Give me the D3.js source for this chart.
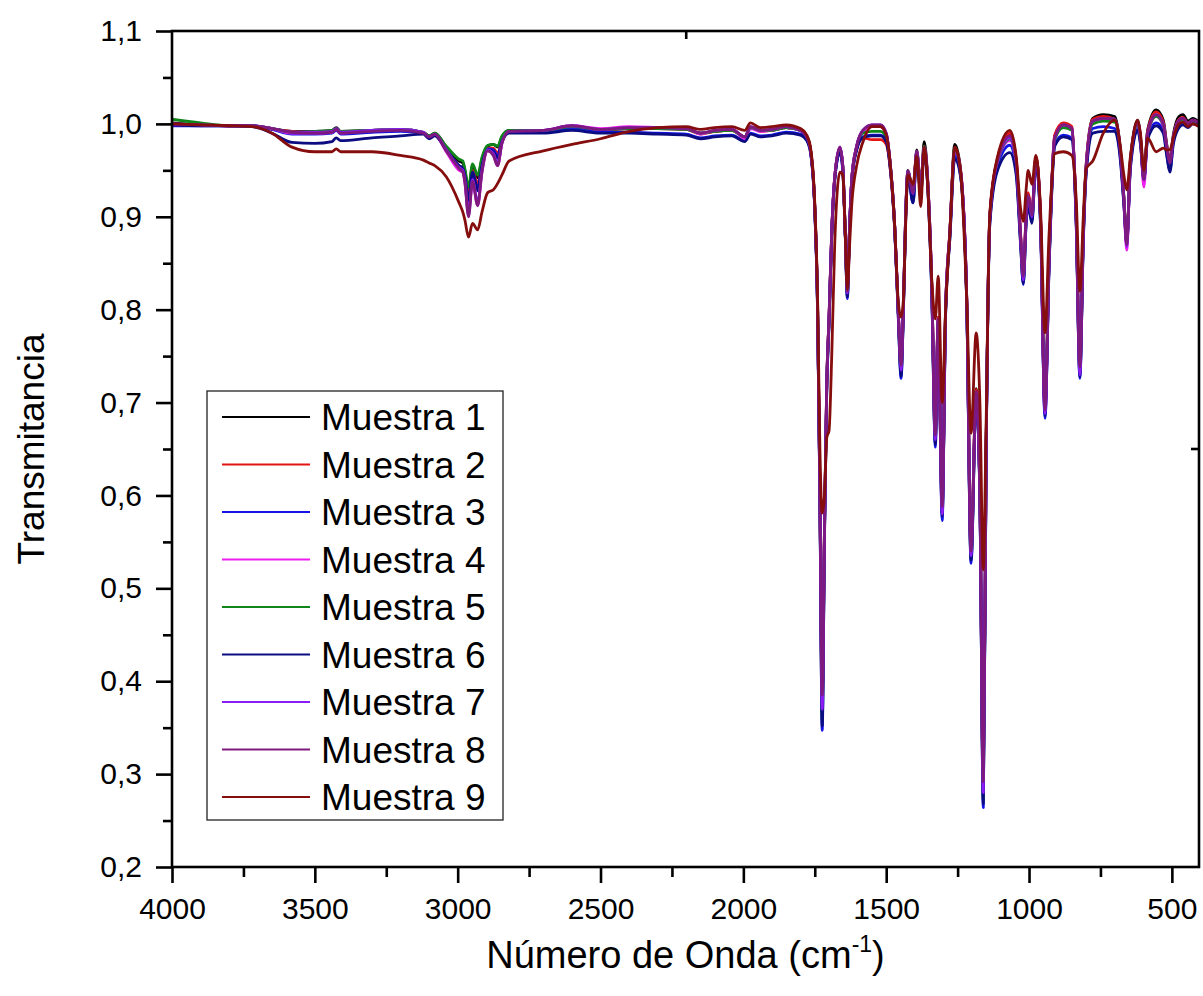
<!DOCTYPE html>
<html>
<head>
<meta charset="utf-8">
<script src="https://cdn.jsdelivr.net/npm/d3@7"></script>
<style>
  body { margin: 0; background: #fff; }
  svg { display: block; font-family: Arial, "Liberation Sans", sans-serif; }
</style>
</head>
<body>
<div id="chart"></div>
<script>
// wavenumber grid (cm-1), shared by all samples
const wavenumbers = [
  4000, 3900, 3800, 3720, 3650, 3580, 3500, 3440, 3425, 3410,
  3300, 3200, 3120, 3100, 3080, 3040, 2995, 2982, 2975, 2962,
  2948, 2930, 2915, 2895, 2875, 2860, 2845, 2820, 2700, 2600,
  2500, 2400, 2300, 2200, 2150, 2100, 2040, 1995, 1975, 1940,
  1900, 1850, 1800, 1778, 1765, 1750, 1740, 1732, 1724, 1716,
  1708, 1700, 1690, 1680, 1662, 1652, 1643, 1636, 1628, 1620,
  1604, 1582, 1550, 1520, 1500, 1487, 1470, 1458, 1448, 1440,
  1432, 1424, 1406, 1393, 1379, 1367, 1355, 1340, 1328, 1318,
  1304, 1292, 1277, 1260, 1240, 1218, 1203, 1185, 1172, 1160,
  1150, 1137, 1110, 1067, 1045, 1030, 1020, 1010, 1003, 990,
  976, 960, 944, 930, 910, 880, 850, 835, 822, 810,
  800, 777, 740, 700, 680, 668, 658, 645, 620, 610,
  598, 585, 555, 530, 518, 507, 495, 475, 461, 444, 427, 405
];

const muestra1 = [
  1.001, 0.999, 0.998, 0.998, 0.995, 0.992, 0.992, 0.993, 0.996, 0.992,
  0.993, 0.994, 0.991, 0.987, 0.990, 0.975, 0.960, 0.958, 0.950, 0.928,
  0.955, 0.942, 0.962, 0.976, 0.978, 0.975, 0.986, 0.993, 0.993, 0.997,
  0.994, 0.995, 0.995, 0.994, 0.990, 0.992, 0.993, 0.986, 0.996, 0.993,
  0.993, 0.996, 0.993, 0.986, 0.972, 0.910, 0.800, 0.600, 0.385, 0.565,
  0.722, 0.792, 0.889, 0.943, 0.974, 0.955, 0.880, 0.822, 0.890, 0.943,
  0.975, 0.992, 0.997, 0.997, 0.989, 0.961, 0.889, 0.800, 0.740, 0.800,
  0.902, 0.950, 0.928, 0.972, 0.932, 0.981, 0.942, 0.822, 0.670, 0.792,
  0.595, 0.802, 0.885, 0.978, 0.952, 0.812, 0.545, 0.715, 0.605, 0.290,
  0.655, 0.902, 0.962, 0.988, 0.960, 0.882, 0.838, 0.902, 0.924, 0.902,
  0.965, 0.902, 0.695, 0.852, 0.987, 1.000, 0.996, 0.902, 0.740, 0.882,
  0.956, 1.006, 1.010, 1.008, 0.972, 0.922, 0.874, 0.962, 1.004, 0.987,
  0.942, 0.993, 1.015, 1.004, 0.978, 0.960, 0.988, 1.008, 1.010, 1.003, 1.006, 1.002
];

const muestra2 = [
  0.999, 0.999, 0.998, 0.998, 0.994, 0.992, 0.991, 0.992, 0.995, 0.991,
  0.992, 0.993, 0.990, 0.985, 0.988, 0.972, 0.955, 0.952, 0.945, 0.925,
  0.950, 0.935, 0.958, 0.974, 0.974, 0.968, 0.983, 0.991, 0.991, 0.995,
  0.993, 0.995, 0.995, 0.994, 0.989, 0.992, 0.993, 0.986, 0.996, 0.992,
  0.993, 0.996, 0.994, 0.987, 0.973, 0.912, 0.805, 0.605, 0.380, 0.565,
  0.722, 0.792, 0.889, 0.943, 0.972, 0.953, 0.880, 0.822, 0.890, 0.942,
  0.972, 0.985, 0.983, 0.983, 0.978, 0.955, 0.886, 0.800, 0.745, 0.800,
  0.900, 0.948, 0.926, 0.970, 0.930, 0.976, 0.940, 0.822, 0.668, 0.792,
  0.590, 0.802, 0.884, 0.975, 0.951, 0.812, 0.542, 0.714, 0.604, 0.288,
  0.655, 0.902, 0.963, 0.990, 0.962, 0.884, 0.840, 0.905, 0.926, 0.905,
  0.965, 0.902, 0.695, 0.853, 0.988, 1.001, 0.997, 0.903, 0.742, 0.883,
  0.956, 1.005, 1.008, 1.005, 0.970, 0.920, 0.872, 0.961, 1.002, 0.986,
  0.942, 0.992, 1.013, 1.002, 0.977, 0.960, 0.986, 1.005, 1.007, 1.001, 1.004, 1.001
];

const muestra3 = [
  0.998, 0.998, 0.998, 0.998, 0.994, 0.989, 0.989, 0.990, 0.993, 0.989,
  0.991, 0.992, 0.990, 0.985, 0.988, 0.972, 0.955, 0.952, 0.945, 0.915,
  0.948, 0.930, 0.956, 0.973, 0.972, 0.965, 0.982, 0.991, 0.992, 0.995,
  0.991, 0.991, 0.990, 0.989, 0.985, 0.987, 0.988, 0.982, 0.990, 0.987,
  0.988, 0.991, 0.989, 0.983, 0.970, 0.908, 0.795, 0.595, 0.347, 0.555,
  0.715, 0.785, 0.885, 0.940, 0.970, 0.950, 0.878, 0.812, 0.888, 0.940,
  0.972, 0.986, 0.988, 0.988, 0.982, 0.957, 0.886, 0.795, 0.726, 0.795,
  0.895, 0.945, 0.915, 0.966, 0.925, 0.972, 0.935, 0.812, 0.652, 0.785,
  0.573, 0.795, 0.878, 0.966, 0.945, 0.805, 0.527, 0.705, 0.595, 0.264,
  0.645, 0.895, 0.955, 0.977, 0.950, 0.875, 0.827, 0.895, 0.915, 0.895,
  0.958, 0.895, 0.683, 0.845, 0.978, 0.988, 0.985, 0.895, 0.726, 0.875,
  0.948, 0.995, 0.997, 0.995, 0.963, 0.915, 0.870, 0.955, 0.995, 0.980,
  0.938, 0.985, 1.001, 0.993, 0.968, 0.950, 0.980, 0.998, 1.001, 0.997, 1.001, 0.999
];

const muestra4 = [
  0.999, 0.999, 0.998, 0.998, 0.995, 0.990, 0.990, 0.991, 0.994, 0.990,
  0.993, 0.994, 0.991, 0.986, 0.988, 0.970, 0.950, 0.948, 0.937, 0.905,
  0.938, 0.912, 0.948, 0.971, 0.966, 0.955, 0.979, 0.992, 0.993, 0.998,
  0.995, 0.997, 0.996, 0.995, 0.989, 0.993, 0.994, 0.984, 0.995, 0.992,
  0.993, 0.996, 0.993, 0.986, 0.972, 0.910, 0.800, 0.600, 0.375, 0.560,
  0.720, 0.790, 0.889, 0.943, 0.975, 0.955, 0.880, 0.818, 0.890, 0.943,
  0.975, 0.992, 0.997, 0.997, 0.989, 0.960, 0.889, 0.800, 0.738, 0.800,
  0.900, 0.948, 0.925, 0.970, 0.928, 0.975, 0.940, 0.820, 0.662, 0.790,
  0.585, 0.800, 0.883, 0.972, 0.950, 0.810, 0.538, 0.710, 0.600, 0.282,
  0.650, 0.900, 0.960, 0.982, 0.956, 0.880, 0.834, 0.900, 0.921, 0.900,
  0.962, 0.900, 0.690, 0.850, 0.984, 0.997, 0.994, 0.900, 0.735, 0.880,
  0.953, 1.002, 1.004, 1.003, 0.968, 0.915, 0.864, 0.958, 1.000, 0.983,
  0.932, 0.988, 1.008, 0.998, 0.972, 0.955, 0.984, 1.003, 1.005, 0.999, 1.003, 1.000
];

const muestra5 = [
  1.005, 1.001, 0.998, 0.998, 0.995, 0.991, 0.992, 0.993, 0.995, 0.992,
  0.993, 0.994, 0.991, 0.987, 0.990, 0.976, 0.962, 0.960, 0.952, 0.932,
  0.957, 0.945, 0.964, 0.977, 0.978, 0.976, 0.987, 0.993, 0.993, 0.997,
  0.994, 0.995, 0.995, 0.994, 0.990, 0.992, 0.993, 0.986, 0.996, 0.993,
  0.993, 0.996, 0.993, 0.986, 0.972, 0.910, 0.800, 0.598, 0.358, 0.558,
  0.718, 0.788, 0.887, 0.942, 0.973, 0.954, 0.879, 0.815, 0.889, 0.942,
  0.974, 0.990, 0.992, 0.992, 0.986, 0.959, 0.888, 0.798, 0.732, 0.798,
  0.898, 0.948, 0.922, 0.969, 0.928, 0.976, 0.938, 0.816, 0.658, 0.788,
  0.582, 0.798, 0.881, 0.974, 0.949, 0.808, 0.532, 0.708, 0.598, 0.272,
  0.648, 0.899, 0.959, 0.984, 0.957, 0.878, 0.830, 0.898, 0.919, 0.898,
  0.961, 0.898, 0.700, 0.848, 0.983, 0.996, 0.993, 0.898, 0.732, 0.878,
  0.952, 1.000, 1.003, 1.002, 0.968, 0.918, 0.872, 0.958, 1.000, 0.984,
  0.940, 0.989, 1.008, 0.999, 0.974, 0.956, 0.985, 1.003, 1.005, 1.000, 1.003, 1.000
];

const muestra6 = [
  0.999, 0.998, 0.998, 0.997, 0.990, 0.980, 0.979, 0.981, 0.985, 0.982,
  0.985, 0.987, 0.989, 0.984, 0.987, 0.972, 0.955, 0.952, 0.945, 0.918,
  0.948, 0.928, 0.955, 0.972, 0.970, 0.963, 0.981, 0.990, 0.990, 0.993,
  0.990, 0.990, 0.989, 0.988, 0.984, 0.986, 0.987, 0.981, 0.989, 0.986,
  0.987, 0.990, 0.988, 0.982, 0.969, 0.907, 0.795, 0.596, 0.352, 0.556,
  0.716, 0.786, 0.885, 0.940, 0.969, 0.950, 0.877, 0.814, 0.887, 0.940,
  0.971, 0.985, 0.987, 0.987, 0.981, 0.956, 0.885, 0.795, 0.728, 0.795,
  0.895, 0.944, 0.915, 0.965, 0.924, 0.970, 0.934, 0.812, 0.655, 0.785,
  0.578, 0.795, 0.877, 0.962, 0.944, 0.805, 0.530, 0.705, 0.596, 0.268,
  0.645, 0.893, 0.950, 0.969, 0.945, 0.872, 0.828, 0.893, 0.912, 0.893,
  0.957, 0.893, 0.686, 0.843, 0.976, 0.986, 0.983, 0.893, 0.728, 0.873,
  0.946, 0.990, 0.992, 0.992, 0.960, 0.913, 0.875, 0.952, 0.993, 0.978,
  0.940, 0.983, 0.998, 0.990, 0.966, 0.948, 0.978, 0.996, 0.999, 0.996, 1.000, 0.998
];

const muestra7 = [
  1.000, 0.999, 0.998, 0.998, 0.995, 0.991, 0.991, 0.992, 0.995, 0.991,
  0.993, 0.994, 0.991, 0.986, 0.989, 0.972, 0.953, 0.950, 0.940, 0.902,
  0.940, 0.915, 0.950, 0.972, 0.968, 0.957, 0.980, 0.992, 0.993, 0.998,
  0.994, 0.996, 0.996, 0.995, 0.990, 0.993, 0.994, 0.986, 0.997, 0.993,
  0.994, 0.997, 0.993, 0.986, 0.972, 0.910, 0.800, 0.600, 0.370, 0.560,
  0.720, 0.790, 0.889, 0.943, 0.975, 0.955, 0.880, 0.818, 0.890, 0.943,
  0.975, 0.993, 0.999, 0.999, 0.990, 0.961, 0.889, 0.800, 0.735, 0.800,
  0.900, 0.949, 0.925, 0.970, 0.930, 0.975, 0.940, 0.820, 0.660, 0.790,
  0.580, 0.800, 0.883, 0.973, 0.950, 0.810, 0.535, 0.710, 0.600, 0.280,
  0.650, 0.900, 0.960, 0.985, 0.958, 0.880, 0.832, 0.900, 0.922, 0.900,
  0.962, 0.900, 0.688, 0.850, 0.985, 0.999, 0.995, 0.900, 0.730, 0.880,
  0.954, 1.003, 1.006, 1.005, 0.970, 0.920, 0.868, 0.960, 1.002, 0.985,
  0.940, 0.990, 1.010, 1.000, 0.975, 0.958, 0.985, 1.004, 1.006, 1.000, 1.004, 1.001
];

const muestra8 = [
  1.000, 0.999, 0.998, 0.998, 0.995, 0.991, 0.990, 0.991, 0.994, 0.990,
  0.992, 0.993, 0.990, 0.986, 0.989, 0.971, 0.952, 0.948, 0.938, 0.900,
  0.938, 0.912, 0.948, 0.971, 0.966, 0.955, 0.979, 0.992, 0.993, 0.998,
  0.994, 0.996, 0.996, 0.995, 0.990, 0.993, 0.994, 0.986, 0.997, 0.993,
  0.994, 0.997, 0.993, 0.986, 0.972, 0.910, 0.800, 0.600, 0.385, 0.562,
  0.722, 0.792, 0.889, 0.943, 0.975, 0.955, 0.880, 0.820, 0.890, 0.943,
  0.975, 0.993, 0.999, 0.999, 0.990, 0.961, 0.889, 0.800, 0.740, 0.800,
  0.900, 0.949, 0.926, 0.970, 0.930, 0.975, 0.940, 0.820, 0.665, 0.790,
  0.588, 0.800, 0.883, 0.973, 0.950, 0.810, 0.540, 0.712, 0.602, 0.292,
  0.652, 0.900, 0.961, 0.987, 0.960, 0.882, 0.836, 0.902, 0.923, 0.902,
  0.963, 0.900, 0.692, 0.850, 0.985, 0.999, 0.995, 0.900, 0.738, 0.880,
  0.954, 1.003, 1.006, 1.005, 0.970, 0.920, 0.870, 0.960, 1.002, 0.985,
  0.940, 0.990, 1.010, 1.000, 0.975, 0.958, 0.985, 1.004, 1.006, 1.000, 1.004, 1.001
];

const muestra9 = [
  1.000, 0.999, 0.998, 0.997, 0.990, 0.975, 0.970, 0.970, 0.973, 0.970,
  0.970, 0.966, 0.961, 0.958, 0.955, 0.943, 0.915, 0.905, 0.897, 0.878,
  0.893, 0.886, 0.905, 0.926, 0.929, 0.936, 0.945, 0.960, 0.971, 0.978,
  0.984, 0.992, 0.996, 0.997, 0.994, 0.996, 0.997, 0.993, 1.001, 0.996,
  0.997, 0.999, 0.995, 0.988, 0.975, 0.915, 0.810, 0.650, 0.581, 0.600,
  0.662, 0.670, 0.757, 0.872, 0.948, 0.945, 0.880, 0.822, 0.870, 0.915,
  0.954, 0.980, 0.997, 0.997, 0.988, 0.960, 0.889, 0.810, 0.792, 0.810,
  0.890, 0.945, 0.935, 0.965, 0.911, 0.975, 0.935, 0.830, 0.790, 0.836,
  0.700, 0.800, 0.883, 0.975, 0.950, 0.810, 0.667, 0.775, 0.700, 0.520,
  0.680, 0.905, 0.965, 0.993, 0.965, 0.910, 0.895, 0.930, 0.950, 0.935,
  0.966, 0.910, 0.775, 0.880, 0.968, 0.970, 0.966, 0.920, 0.820, 0.900,
  0.952, 0.960, 0.990, 1.004, 0.975, 0.945, 0.929, 0.965, 1.004, 0.990,
  0.950, 0.985, 0.970, 0.974, 0.972, 0.972, 0.985, 1.000, 1.002, 0.997, 1.000, 0.997
];

const seriesNames = [
  "Muestra 1", "Muestra 2", "Muestra 3", "Muestra 4", "Muestra 5",
  "Muestra 6", "Muestra 7", "Muestra 8", "Muestra 9"
];
const seriesColors = [
  "#000000", "#e41414", "#1414e6", "#f01cf0", "#10861a",
  "#0c0c82", "#8a1cf6", "#7e1a7e", "#860d0d"
];
const seriesValues = [
  muestra1, muestra2, muestra3, muestra4, muestra5,
  muestra6, muestra7, muestra8, muestra9
];

const xMajorTicks = [4000, 3500, 3000, 2500, 2000, 1500, 1000, 500];
const xMinorTicks = [3750, 3250, 2750, 2250, 1750, 1250, 750];
const yMajorTicks = [0.2, 0.3, 0.4, 0.5, 0.6, 0.7, 0.8, 0.9, 1.0, 1.1];
const yMinorTicks = [0.25, 0.35, 0.45, 0.55, 0.65, 0.75, 0.85, 0.95, 1.05];

const width = 1203;
const height = 996;
const plot = { left: 172, right: 1199, top: 31, bottom: 867 };

const x = d3.scaleLinear().domain([4000, 405]).range([plot.left, plot.right]);
const y = d3.scaleLinear().domain([0.2, 1.1]).range([plot.bottom, plot.top]);

const svg = d3
  .select("#chart")
  .append("svg")
  .attr("width", width)
  .attr("height", height)
  .attr("viewBox", [0, 0, width, height]);

const commaFormat = (d) => d3.format(".1f")(d).replace(".", ",");

// axes
function styleAxis(g) {
  g.select(".domain").remove();
  g.selectAll(".tick line").attr("stroke", "#000").attr("stroke-width", 2.6);
  g.selectAll(".tick text")
    .attr("fill", "#000")
    .style("font-size", "30px");
}

svg
  .append("g")
  .attr("transform", `translate(0,${plot.bottom})`)
  .call(
    d3.axisBottom(x).tickValues(xMinorTicks).tickSize(10).tickFormat("")
  )
  .call(styleAxis);

svg
  .append("g")
  .attr("transform", `translate(0,${plot.bottom})`)
  .call(
    d3
      .axisBottom(x)
      .tickValues(xMajorTicks)
      .tickSize(16)
      .tickPadding(15)
      .tickFormat(d3.format("d"))
  )
  .call(styleAxis);

svg
  .append("g")
  .attr("transform", `translate(${plot.left},0)`)
  .call(d3.axisLeft(y).tickValues(yMinorTicks).tickSize(9).tickFormat(""))
  .call(styleAxis);

svg
  .append("g")
  .attr("transform", `translate(${plot.left},0)`)
  .call(
    d3
      .axisLeft(y)
      .tickValues(yMajorTicks)
      .tickSize(16)
      .tickPadding(14)
      .tickFormat(commaFormat)
  )
  .call(styleAxis);

// stray inner ticks on the top and right borders
svg
  .append("line")
  .attr("x1", x(2200))
  .attr("x2", x(2200))
  .attr("y1", plot.top)
  .attr("y2", plot.top + 8)
  .attr("stroke", "#000")
  .attr("stroke-width", 2.6);
svg
  .append("line")
  .attr("x1", plot.right)
  .attr("x2", plot.right - 8)
  .attr("y1", y(0.65))
  .attr("y2", y(0.65))
  .attr("stroke", "#000")
  .attr("stroke-width", 2.6);

// spectra
const line = d3
  .line()
  .x((d) => x(d[0]))
  .y((d) => y(d[1]))
  .curve(d3.curveMonotoneX);

svg
  .append("g")
  .attr("class", "spectra")
  .selectAll("path")
  .data(seriesValues.map((vals) => vals.map((v, i) => [wavenumbers[i], v])))
  .join("path")
  .attr("d", line)
  .attr("fill", "none")
  .attr("stroke", (d, i) => seriesColors[i])
  .attr("stroke-width", 2.8)
  .attr("stroke-linejoin", "round");

// frame
svg
  .append("rect")
  .attr("x", plot.left)
  .attr("y", plot.top)
  .attr("width", plot.right - plot.left)
  .attr("height", plot.bottom - plot.top)
  .attr("fill", "none")
  .attr("stroke", "#000")
  .attr("stroke-width", 2.6);

// legend
const legend = svg.append("g").attr("class", "legend");
legend
  .append("rect")
  .attr("x", 207)
  .attr("y", 391)
  .attr("width", 296)
  .attr("height", 429)
  .attr("fill", "#fff")
  .attr("stroke", "#222")
  .attr("stroke-width", 1.3);

const row = legend
  .selectAll(".row")
  .data(seriesNames)
  .join("g")
  .attr("class", "row")
  .attr("transform", (d, i) => `translate(0,${417 + i * 47.5})`);

row
  .append("line")
  .attr("x1", 222)
  .attr("x2", 310)
  .attr("stroke", (d, i) => seriesColors[i])
  .attr("stroke-width", 2.2);

row
  .append("text")
  .attr("x", 321)
  .attr("y", 13)
  .style("font-size", "37px")
  .attr("fill", "#000")
  .text((d) => d);

// axis titles
svg
  .append("text")
  .attr("transform", `translate(44,${(plot.top + plot.bottom) / 2}) rotate(-90)`)
  .attr("text-anchor", "middle")
  .style("font-size", "37px")
  .attr("fill", "#000")
  .text("Transmitancia");

const xTitle = svg
  .append("text")
  .attr("x", (plot.left + plot.right) / 2)
  .attr("y", 968)
  .attr("text-anchor", "middle")
  .style("font-size", "38px")
  .attr("fill", "#000");
xTitle.append("tspan").text("Número de Onda (cm");
xTitle
  .append("tspan")
  .attr("dy", -16)
  .style("font-size", "23px")
  .text("-1");
xTitle.append("tspan").attr("dy", 16).text(")");
</script>
</body>
</html>
